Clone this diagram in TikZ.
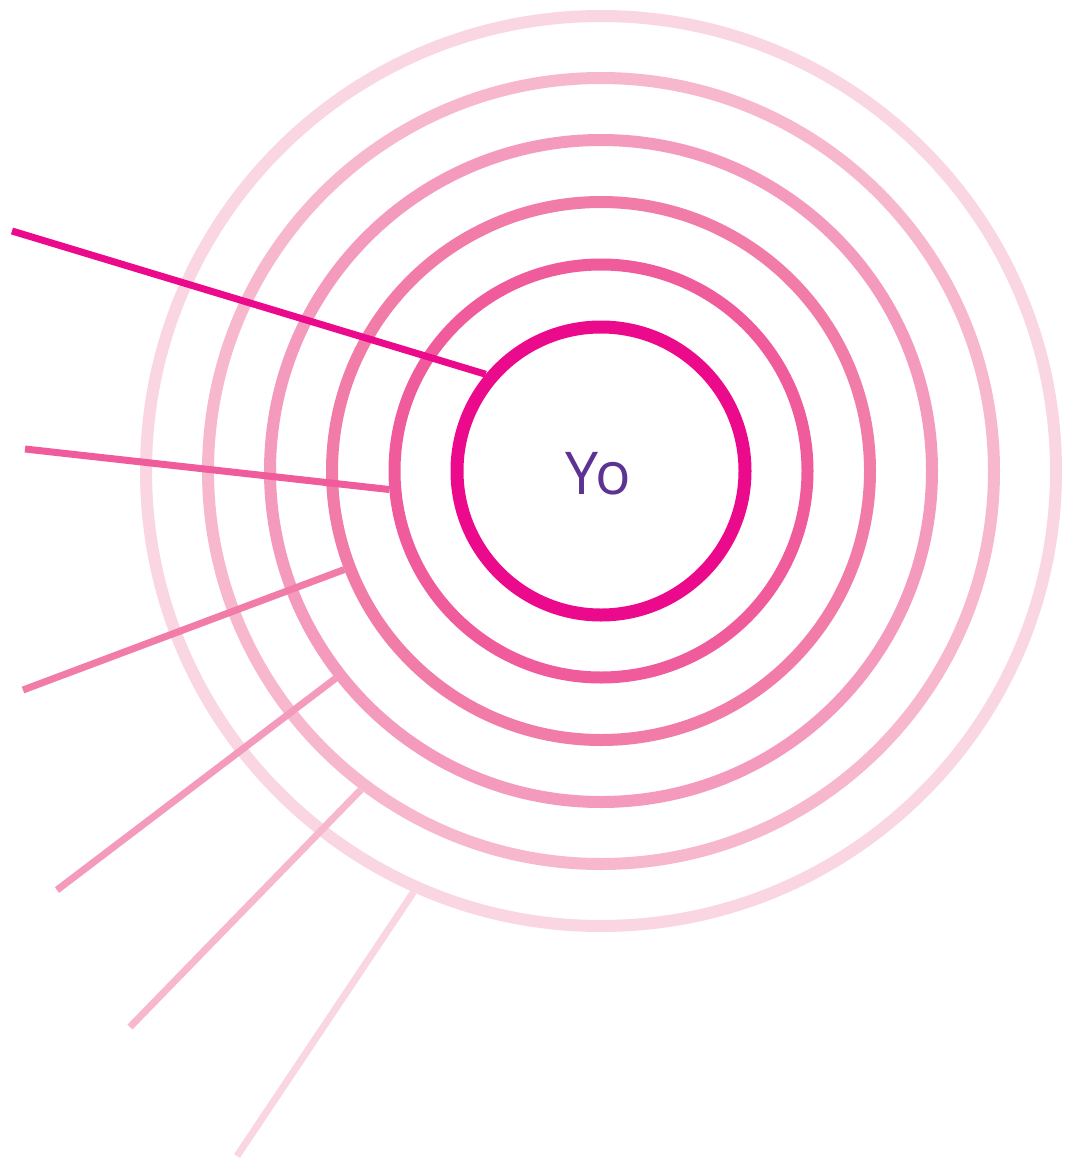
\documentclass[tikz,border=0pt]{standalone}
\usepackage{fontspec}
\newfontfamily\yofont{Open Sans}
\definecolor{cA}{HTML}{EC0A8C}
\definecolor{cB}{HTML}{EF5B9B}
\definecolor{cC}{HTML}{F27CA8}
\definecolor{cD}{HTML}{F49BBD}
\definecolor{cE}{HTML}{F7B8CE}
\definecolor{cF}{HTML}{FAD5E2}
\definecolor{yopurple}{HTML}{5C3393}
\begin{document}
\begin{tikzpicture}[x=1pt,y=-1pt,
  ring/.style={circle,draw=#1,line width=12pt,inner sep=0pt},
  ray/.style={draw=#1,line width=7pt,line cap=butt}]
\useasboundingbox (0,0) rectangle (1075,1159);
\coordinate (ctr) at (601,471);
\node[ring=cF,minimum size=910pt] (r6) at (ctr) {};
\node[ring=cE,minimum size=786pt] (r5) at (ctr) {};
\node[ring=cD,minimum size=662pt] (r4) at (ctr) {};
\node[ring=cC,minimum size=538pt] (r3) at (ctr) {};
\node[ring=cB,minimum size=413pt] (r2) at (ctr) {};
\node[ring=cA,line width=13pt,minimum size=288pt] (r1) at (ctr) {};
\node[anchor=base,text=yopurple,font=\yofont\fontsize{59}{59}\selectfont] (yo) at (598,494) {Yo};
\coordinate (s1) at (12,231);
\coordinate (s2) at (25,449);
\coordinate (s3) at (23,690);
\coordinate (s4) at (57,890);
\coordinate (s5) at (130,1027);
\coordinate (s6) at (237,1156);
\draw[ray=cF] (s6) -- (r6.246.4);
\draw[ray=cE] (s5) -- (r5.233.7);
\draw[ray=cD] (s4) -- (r4.218.9);
\draw[ray=cC] (s3) -- (r3.201.3);
\draw[ray=cB] (s2) -- (r2.185.1);
\draw[ray=cA] (s1) -- (r1.140.2);
\end{tikzpicture}
\end{document}
